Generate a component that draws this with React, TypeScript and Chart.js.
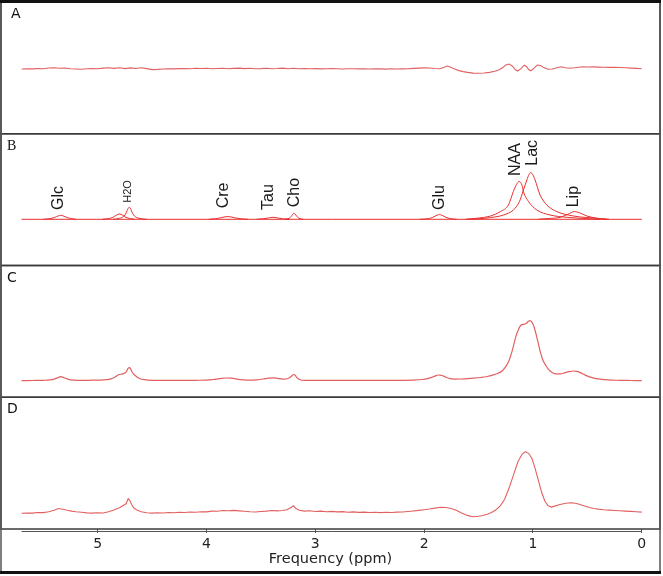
import React, { useEffect, useRef } from 'react';
import { Chart, registerables } from 'chart.js';

Chart.register(...registerables);

// ---------- text ----------
const PANEL_LABELS = ['A', 'B', 'C', 'D'];
const X_TICKS = [5, 4, 3, 2, 1, 0];
const X_TITLE = 'Frequency (ppm)';

// ---------- panel A (difference / residual) ----------
const ppmA = [5.7, 5.65, 5.6, 5.55, 5.5, 5.45, 5.4, 5.35, 5.3, 5.25, 5.2, 5.15, 5.1, 5.05, 5.0, 4.95, 4.9, 4.85, 4.8, 4.75, 4.7, 4.65, 4.6, 4.55, 4.5, 4.45, 4.4, 4.35, 4.3, 4.25, 4.2, 4.15, 4.1, 4.05, 4.0, 3.95, 3.9, 3.85, 3.8, 3.75, 3.7, 3.65, 3.6, 3.55, 3.5, 3.45, 3.4, 3.35, 3.3, 3.25, 3.2, 3.15, 3.1, 3.05, 3.0, 2.95, 2.9, 2.85, 2.8, 2.75, 2.7, 2.65, 2.6, 2.55, 2.5, 2.45, 2.4, 2.35, 2.3, 2.25, 2.2, 2.15, 2.1, 2.05, 2.0, 1.95, 1.9, 1.86, 1.82, 1.79, 1.76, 1.72, 1.68, 1.64, 1.6, 1.55, 1.5, 1.45, 1.4, 1.35, 1.31, 1.28, 1.25, 1.22, 1.19, 1.16, 1.14, 1.11, 1.08, 1.06, 1.04, 1.02, 0.99, 0.96, 0.93, 0.9, 0.86, 0.82, 0.78, 0.74, 0.7, 0.66, 0.62, 0.58, 0.54, 0.5, 0.45, 0.4, 0.35, 0.3, 0.25, 0.2, 0.15, 0.1, 0.05, 0.0];
const valA = [0, 0.3, 0.1, 0.5, 0.3, 1.0, 1.3, 0.7, 1.0, 0.3, 0.0, -0.2, 0.3, 0.5, 0.2, 0.9, 1.3, 0.6, 1.2, 0.4, 1.1, 0.5, 1.2, 0.4, -0.6, -0.4, 0.0, 0.3, 0.1, 0.4, 0.5, 0.2, 0.7, 0.5, 0.8, 0.3, 0.5, 0.8, 0.3, 0.6, 0.9, 0.4, 0.7, 0.3, 0.4, 0.8, 0.3, 0.5, 0.9, 0.3, 0.7, 0.3, 0.5, 0.2, 0.4, 0.1, 0.3, 0.5, 0.2, 0.0, 0.3, 0.2, 0.1, 0.3, 0.0, 0.2, 0.1, -0.1, 0.2, 0.0, 0.1, 0.3, 0.6, 0.9, 1.1, 1.0, 0.5, 0.2, 1.6, 3.0, 2.0, 0.0, -1.6, -2.6, -3.4, -4.1, -4.3, -4.0, -3.4, -2.3, -0.8, 1.2, 4.0, 5.0, 3.0, -0.8, -2.0, 0.3, 3.8, 2.5, -0.5, -1.8, 0.8, 4.0, 3.5, 1.4, -0.2, 0.0, 1.2, 2.2, 1.3, 0.7, 1.2, 1.8, 2.2, 2.0, 2.1, 1.9, 1.8, 1.6, 1.7, 1.5, 1.2, 0.9, 0.6, 0.3];

// ---------- panel B (basis set) ----------
const ppmBase = [5.7, 0.0];
const valBase = [0, 0];
const ppmGlc = [5.5, 5.44, 5.4, 5.36, 5.34, 5.32, 5.28, 5.24, 5.2];
const valGlc = [0, 0.7, 1.7, 3.5, 4.0, 3.5, 1.7, 0.7, 0];
const ppmH2Oa = [4.96, 4.9, 4.86, 4.83, 4.8, 4.77, 4.74, 4.7, 4.66];
const valH2Oa = [0, 0.7, 2.0, 4.0, 5.3, 4.0, 2.0, 0.7, 0];
const ppmH2Ob = [4.86, 4.8, 4.76, 4.74, 4.72, 4.71, 4.7, 4.68, 4.66, 4.62, 4.55];
const valH2Ob = [0, 1.0, 3.0, 6.0, 11.0, 12.0, 11.0, 6.0, 3.0, 1.0, 0];
const ppmCre = [3.98, 3.92, 3.87, 3.83, 3.81, 3.78, 3.74, 3.68, 3.62];
const valCre = [0, 0.5, 1.5, 2.5, 2.7, 2.5, 1.5, 0.5, 0];
const ppmTau = [3.54, 3.48, 3.43, 3.39, 3.35, 3.3, 3.24];
const valTau = [0, 0.5, 1.4, 2.0, 1.4, 0.5, 0];
const ppmCho = [3.28, 3.24, 3.22, 3.2, 3.19, 3.17, 3.15, 3.11];
const valCho = [0, 1.0, 3.0, 6.0, 5.5, 3.0, 1.0, 0];
const ppmGlu = [2.04, 1.96, 1.92, 1.88, 1.86, 1.84, 1.8, 1.76, 1.7];
const valGlu = [0, 0.7, 2.0, 4.2, 4.7, 4.2, 2.0, 0.7, 0];
const ppmNAA = [1.62, 1.52, 1.39, 1.3, 1.225, 1.18, 1.15, 1.127, 1.1, 1.087, 1.04, 0.964, 0.842, 0.688, 0.504, 0.38];
const valNAA = [0, 1.0, 3.3, 7.7, 14.3, 27.7, 35.0, 37.7, 34.0, 27.7, 17.7, 9.3, 4.3, 2.0, 0.7, 0];
const ppmLac = [1.6, 1.5, 1.39, 1.27, 1.18, 1.124, 1.087, 1.056, 1.035, 1.02, 1.0, 0.98, 0.934, 0.872, 0.78, 0.627, 0.41, 0.3];
const valLac = [0, 0.5, 1.7, 4.3, 9.3, 17.7, 29.3, 39.3, 45.0, 46.7, 44.5, 39.3, 24.3, 14.3, 7.7, 3.3, 1.0, 0];
const ppmLip = [0.95, 0.87, 0.75, 0.68, 0.618, 0.56, 0.504, 0.41, 0.32];
const valLip = [0, 0.7, 2.0, 5.0, 7.7, 6.0, 3.3, 1.0, 0];

const peakNames = ['Glc', 'H2O', 'Cre', 'Tau', 'Cho', 'Glu', 'NAA', 'Lac', 'Lip'];
const peakLabelPpm = [5.357, 4.72, 3.84, 3.43, 3.195, 1.861, 1.159, 1.006, 0.63];
const peakLabelHeight = [9.3, 16.6, 11, 9.3, 12, 9.3, 43.3, 53.6, 12];

// ---------- panel C (fitted spectrum) ----------
const ppmC = [5.7, 5.6, 5.5, 5.44, 5.4, 5.36, 5.34, 5.31, 5.27, 5.22, 5.15, 5.05, 4.98, 4.92, 4.88, 4.84, 4.81, 4.77, 4.74, 4.72, 4.705, 4.69, 4.67, 4.64, 4.61, 4.57, 4.5, 4.4, 4.3, 4.2, 4.1, 4.0, 3.94, 3.88, 3.82, 3.77, 3.72, 3.66, 3.6, 3.54, 3.48, 3.43, 3.39, 3.35, 3.3, 3.25, 3.22, 3.2, 3.185, 3.17, 3.14, 3.1, 3.0, 2.8, 2.6, 2.4, 2.2, 2.1, 2.02, 1.96, 1.91, 1.87, 1.84, 1.8, 1.76, 1.72, 1.66, 1.6, 1.54, 1.48, 1.42, 1.37, 1.32, 1.28, 1.25, 1.22, 1.19, 1.16, 1.13, 1.11, 1.08, 1.06, 1.04, 1.025, 1.01, 0.99, 0.97, 0.95, 0.93, 0.91, 0.88, 0.85, 0.82, 0.79, 0.75, 0.71, 0.67, 0.63, 0.6, 0.56, 0.52, 0.48, 0.44, 0.4, 0.34, 0.28, 0.2, 0.1, 0.0];
const valC = [0, 0.2, 0.4, 0.8, 1.6, 3.3, 4.0, 3.0, 1.4, 0.6, 0.3, 0.5, 0.6, 1.0, 1.8, 3.8, 6.0, 6.8, 8.5, 12.5, 13.0, 10.0, 6.5, 3.8, 2.0, 1.0, 0.4, 0.3, 0.3, 0.3, 0.4, 0.6, 1.2, 2.0, 2.7, 2.5, 1.6, 0.9, 0.6, 0.9, 1.7, 2.6, 2.8, 2.4, 1.6, 2.2, 4.5, 6.2, 5.5, 3.0, 1.0, 0.4, 0.3, 0.3, 0.3, 0.3, 0.4, 0.6, 1.2, 2.4, 4.2, 5.7, 5.4, 3.5, 2.0, 1.6, 1.7, 2.0, 2.5, 3.2, 4.2, 5.6, 7.5, 10, 14, 20, 30, 43, 52, 55.5, 56.5, 57.5, 59.5, 60, 58.5, 54, 46, 37, 28, 21, 15, 10.5, 8.0, 6.8, 6.8, 7.8, 9.0, 9.7, 9.3, 7.8, 5.6, 3.8, 2.6, 1.8, 1.0, 0.6, 0.4, 0.2, 0.0];

// ---------- panel D (measured spectrum) ----------
const ppmD = [5.7, 5.65, 5.6, 5.55, 5.5, 5.45, 5.4, 5.36, 5.32, 5.28, 5.24, 5.2, 5.15, 5.1, 5.05, 5.0, 4.95, 4.9, 4.85, 4.8, 4.77, 4.74, 4.72, 4.705, 4.69, 4.67, 4.64, 4.6, 4.55, 4.5, 4.45, 4.4, 4.35, 4.3, 4.25, 4.2, 4.15, 4.1, 4.05, 4.0, 3.95, 3.9, 3.85, 3.8, 3.75, 3.7, 3.65, 3.6, 3.55, 3.5, 3.45, 3.4, 3.35, 3.3, 3.26, 3.22, 3.2, 3.18, 3.15, 3.1, 3.05, 3.0, 2.95, 2.9, 2.85, 2.8, 2.75, 2.7, 2.65, 2.6, 2.55, 2.5, 2.45, 2.4, 2.35, 2.3, 2.25, 2.2, 2.15, 2.1, 2.05, 2.0, 1.95, 1.9, 1.85, 1.8, 1.75, 1.7, 1.66, 1.62, 1.58, 1.54, 1.5, 1.46, 1.42, 1.38, 1.34, 1.3, 1.26, 1.22, 1.18, 1.14, 1.1, 1.07, 1.04, 1.01, 0.98, 0.95, 0.92, 0.89, 0.86, 0.83, 0.8, 0.76, 0.72, 0.68, 0.64, 0.6, 0.56, 0.52, 0.48, 0.44, 0.4, 0.35, 0.3, 0.25, 0.2, 0.15, 0.1, 0.05, 0.0];
const valD = [0, 0.3, 0.2, 0.8, 0.7, 1.5, 3.0, 4.8, 4.0, 3.0, 2.2, 1.6, 1.0, 0.4, 0.2, 0.5, 0.3, 1.5, 3.2, 5.5, 7.5, 9.5, 14.5, 13.0, 9.0, 5.5, 3.2, 1.5, 0.6, 0.2, 0.6, 0.3, 0.8, 0.5, 1.0, 0.8, 1.3, 1.0, 1.6, 1.4, 2.2, 2.0, 2.8, 2.6, 2.9, 2.4, 2.0, 1.5, 1.3, 1.8, 2.2, 2.8, 2.4, 2.8, 3.6, 6.0, 7.5, 5.0, 3.0, 2.2, 2.6, 1.8, 2.2, 1.6, 1.9, 1.4, 1.7, 1.1, 1.4, 0.9, 1.2, 0.8, 1.1, 0.7, 1.0, 0.8, 1.2, 1.3, 1.8, 2.3, 2.9, 3.6, 4.3, 5.2, 6.0, 5.8, 4.8, 2.8, 0.5, -1.5, -2.8, -3.4, -3.0, -2.2, -1.0, 0.8, 3.5, 7.5, 14, 25, 38, 51, 59, 61.7, 60, 55, 45, 33, 21, 12, 7.5, 6.2, 7.2, 8.5, 9.5, 10.3, 10.5, 9.8, 8.5, 7.0, 5.8, 4.8, 4.2, 3.6, 3.2, 2.8, 2.5, 2.2, 1.9, 1.6, 1.2];

// ---------- styling ----------
const TRACE = 'rgb(226, 96, 96)';
const BASIS = 'rgb(232, 45, 45)';
const FRAME = '#3a3a3a';
const PANEL_IDS = ['yA', 'yB', 'yC', 'yD'];

const pts = (xs: number[], ys: number[]) => xs.map((x, i) => ({ x, y: ys[i] }));

function ds(xs: number[], ys: number[], axis: string, color: string, width: number, smooth: boolean) {
  return {
    data: pts(xs, ys),
    yAxisID: axis,
    borderColor: color,
    borderWidth: width,
    pointRadius: 0,
    fill: false,
    tension: smooth ? 0.4 : 0,
    cubicInterpolationMode: smooth ? 'monotone' : 'default',
    clip: false,
  } as any;
}

const framePlugin = {
  id: 'panelFrames',
  afterDraw(chart: any) {
    const { ctx, chartArea, scales } = chart;
    const left = chartArea.left;
    const right = chartArea.right;
    ctx.save();
    // panel boxes
    ctx.strokeStyle = FRAME;
    ctx.lineWidth = 1.5;
    PANEL_IDS.forEach((id) => {
      const s = scales[id];
      ctx.strokeRect(left, s.top, right - left, s.bottom - s.top);
    });
    // outer frame
    ctx.strokeStyle = '#555';
    ctx.lineWidth = 1.5;
    ctx.beginPath();
    ctx.moveTo(left, 0);
    ctx.lineTo(left, chart.height - 2);
    ctx.moveTo(right, 0);
    ctx.lineTo(right, chart.height - 2);
    ctx.stroke();
    ctx.strokeStyle = '#111';
    ctx.lineWidth = 3;
    ctx.beginPath();
    ctx.moveTo(left - 1, 1.5);
    ctx.lineTo(right + 1, 1.5);
    ctx.moveTo(left - 1, chart.height - 3.5);
    ctx.lineTo(right + 1, chart.height - 3.5);
    ctx.stroke();
    // x axis line (spans the data range)
    const xs = scales.x;
    const y0 = chartArea.bottom + 2;
    ctx.strokeStyle = '#555';
    ctx.lineWidth = 1;
    ctx.beginPath();
    ctx.moveTo(xs.getPixelForValue(ppmA[0]), y0 + 0.5);
    ctx.lineTo(xs.getPixelForValue(ppmA[ppmA.length - 1]), y0 + 0.5);
    ctx.stroke();
    // panel letters
    ctx.fillStyle = '#111';
    ctx.textBaseline = 'alphabetic';
    ctx.textAlign = 'left';
    PANEL_LABELS.forEach((lab, i) => {
      const s = scales[PANEL_IDS[i]];
      ctx.font = lab === 'B' ? '14px "Liberation Serif"' : '14px "DejaVu Sans"';
      ctx.fillText(lab, left + (i === 0 ? 10 : 6), s.top + 16);
    });
    // basis peak names (rotated)
    const yb = scales.yB;
    ctx.fillStyle = '#1a1a1a';
    ctx.textBaseline = 'middle';
    ctx.textAlign = 'left';
    peakNames.forEach((name, i) => {
      const px = xs.getPixelForValue(peakLabelPpm[i]);
      const py = yb.getPixelForValue(peakLabelHeight[i]);
      ctx.save();
      ctx.translate(px, py);
      ctx.rotate(-Math.PI / 2);
      ctx.font = name === 'H2O' ? '11px "Liberation Sans"' : '16px "Liberation Sans"';
      ctx.fillText(name, 0, 0);
      ctx.restore();
    });
    ctx.restore();
  },
};

export default function App() {
  const ref = useRef<HTMLCanvasElement | null>(null);
  useEffect(() => {
    document.body.style.margin = '0';
    if (!ref.current) return;
    const datasets = [
      ds(ppmA, valA, 'yA', TRACE, 1.1, false),
      ds(ppmBase, valBase, 'yB', BASIS, 1, false),
      ds(ppmGlc, valGlc, 'yB', BASIS, 1, true),
      ds(ppmH2Oa, valH2Oa, 'yB', BASIS, 1, true),
      ds(ppmH2Ob, valH2Ob, 'yB', BASIS, 1, true),
      ds(ppmCre, valCre, 'yB', BASIS, 1, true),
      ds(ppmTau, valTau, 'yB', BASIS, 1, true),
      ds(ppmCho, valCho, 'yB', BASIS, 1, true),
      ds(ppmGlu, valGlu, 'yB', BASIS, 1, true),
      ds(ppmNAA, valNAA, 'yB', BASIS, 1, true),
      ds(ppmLac, valLac, 'yB', BASIS, 1, true),
      ds(ppmLip, valLip, 'yB', BASIS, 1, true),
      ds(ppmC, valC, 'yC', TRACE, 1.2, true),
      ds(ppmD, valD, 'yD', TRACE, 1.1, false),
    ];
    const hidden = { display: false, stack: 'panels', stackWeight: 1, position: 'left', type: 'linear' };
    const chart = new Chart(ref.current, {
      type: 'line',
      data: { datasets },
      options: {
        responsive: false,
        maintainAspectRatio: false,
        animation: false,
        layout: { padding: { left: 1, right: 3, top: 2, bottom: 4 } },
        plugins: { legend: { display: false }, tooltip: { enabled: false }, title: { display: false } },
        scales: {
          x: {
            type: 'linear',
            position: 'bottom',
            reverse: true,
            min: -0.168,
            max: 5.889,
            afterBuildTicks: (s: any) => {
              s.ticks = X_TICKS.map((v) => ({ value: v }));
            },
            afterFit: (s: any) => {
              s.height = 43;
            },
            border: { display: false },
            grid: { display: true, drawOnChartArea: false, drawTicks: true, tickLength: 4, tickColor: '#555', lineWidth: 1 },
            ticks: { autoSkip: false, maxRotation: 0, padding: 3, color: '#222', font: { family: 'DejaVu Sans', size: 14 } },
            title: { display: true, text: X_TITLE, color: '#222', padding: { top: 2, bottom: 4 }, font: { family: 'DejaVu Sans', size: 14.5 } },
          },
          yA: { ...hidden, weight: 4, min: -64.75, max: 67 },
          yB: { ...hidden, weight: 3, min: -46.2, max: 85.55 },
          yC: { ...hidden, weight: 2, min: -16.55, max: 115.2 },
          yD: { ...hidden, weight: 1, min: -15.7, max: 116.05 },
        } as any,
      },
      plugins: [framePlugin],
    } as any);
    return () => chart.destroy();
  }, []);
  return <canvas ref={ref} width={663} height={576} style={{ display: 'block' }} />;
}
